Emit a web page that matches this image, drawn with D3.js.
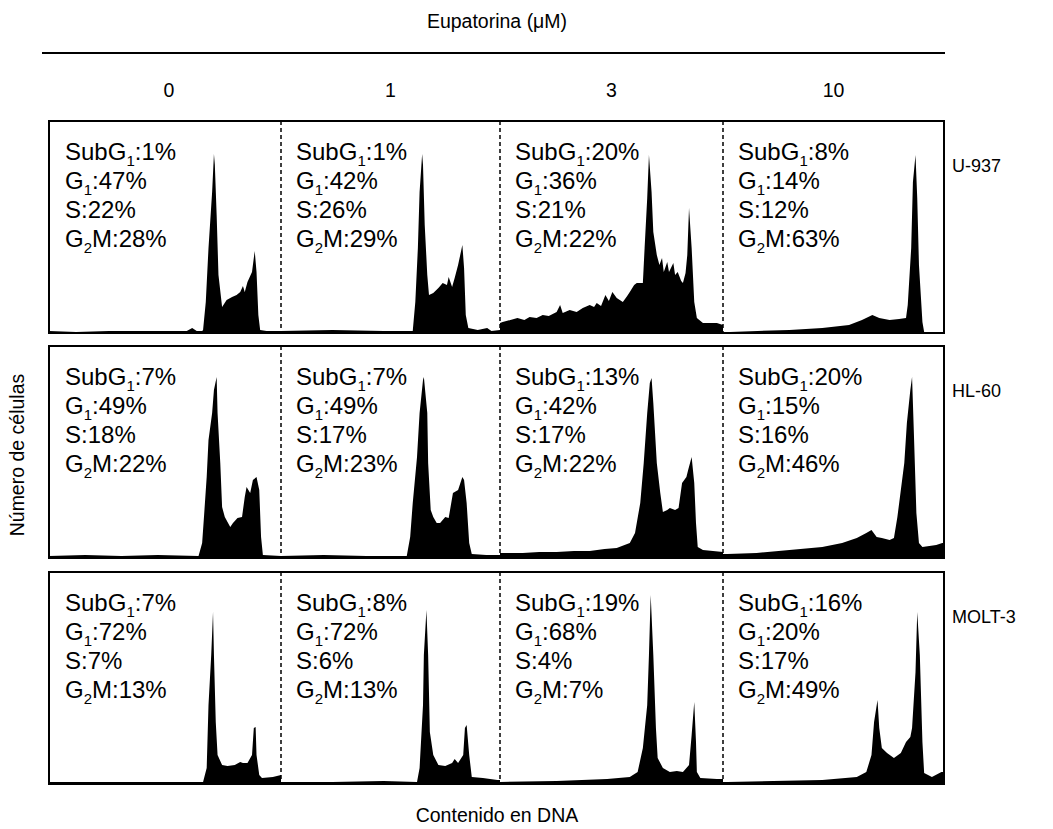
<!DOCTYPE html>
<html>
<head>
<meta charset="utf-8">
<script src="https://cdn.jsdelivr.net/npm/d3@7"></script>
<style>
  body { margin: 0; background: #fff; }
  svg text { font-family: Arial, "Liberation Sans", Helvetica, sans-serif; fill: #000; }
</style>
</head>
<body>
<svg id="chart" width="1053" height="829"></svg>
<script>
const concentrations = ["0", "1", "3", "10"];
const cellLines = ["U-937", "HL-60", "MOLT-3"];

// cell cycle percentages, one row per cell line, one column per concentration
const subG1 = [[1, 1, 20, 8], [7, 7, 13, 20], [7, 8, 19, 16]];
const g1 = [[47, 42, 36, 14], [49, 49, 42, 15], [72, 72, 68, 20]];
const sPhase = [[22, 26, 21, 12], [18, 17, 17, 16], [7, 6, 4, 17]];
const g2m = [[28, 29, 22, 63], [22, 23, 22, 46], [13, 13, 7, 49]];

// DNA histograms: [channel 0-256, cell count]
const u937_0 = [[0,2],[30,1],[66,2],[100,2],[132,2],[152,2],[158,5],[163,2],[169,2],[170,3],[173,31],[176,85],[180,141],[182,179],[183,168],[185,118],[187,58],[191,26],[196,33],[202,36],[207,38],[211,41],[214,47],[216,41],[219,51],[224,61],[227,82],[229,61],[231,18],[233,3],[240,2],[256,2]];
const u937_1 = [[0,2],[60,3],[120,2],[154,2],[157,31],[160,85],[162,141],[165,179],[166,168],[168,108],[171,58],[173,38],[178,40],[184,45],[189,50],[194,48],[196,56],[200,46],[203,55],[207,68],[212,88],[214,65],[216,18],[219,5],[230,3],[241,5],[246,2],[256,3]];
const u937_3 = [[0,10],[3,11],[12,13],[20,15],[28,13],[34,16],[42,15],[49,18],[56,17],[65,21],[69,28],[72,20],[80,23],[88,21],[95,25],[103,28],[108,26],[111,30],[116,27],[121,38],[125,32],[129,41],[134,35],[141,31],[146,37],[149,41],[154,48],[157,50],[164,50],[166,85],[169,135],[171,178],[174,141],[176,101],[180,78],[183,68],[186,75],[188,61],[192,71],[194,61],[199,70],[201,58],[204,61],[208,52],[210,50],[213,60],[215,78],[217,125],[220,85],[223,31],[226,15],[233,10],[249,10],[256,8]];
const u937_10 = [[0,1],[8,1],[40,2],[77,3],[115,5],[146,8],[161,13],[173,18],[181,15],[193,13],[204,14],[212,15],[214,28],[218,85],[220,151],[223,178],[225,135],[227,68],[231,11],[233,1],[256,0]];

const hl60_0 = [[0,2],[40,3],[80,2],[120,3],[165,2],[169,15],[171,41],[174,81],[176,118],[180,145],[182,168],[185,181],[186,145],[189,95],[191,51],[194,41],[200,31],[203,35],[208,40],[213,41],[216,61],[218,71],[222,65],[225,78],[229,81],[232,68],[234,21],[236,3],[256,2]];
const hl60_1 = [[0,2],[50,3],[100,2],[147,2],[151,21],[154,55],[159,101],[162,145],[166,178],[167,181],[171,145],[172,95],[175,48],[178,41],[182,35],[186,35],[192,41],[196,40],[201,65],[207,68],[212,81],[214,78],[217,55],[220,15],[223,4],[240,3],[256,3]];
const hl60_3 = [[0,5],[26,5],[45,6],[65,6],[85,7],[103,7],[120,9],[134,10],[149,15],[155,25],[161,55],[165,95],[169,145],[172,175],[174,180],[176,155],[180,95],[184,65],[187,46],[192,48],[195,50],[201,48],[205,50],[209,75],[214,81],[216,88],[220,101],[223,75],[225,35],[227,11],[233,8],[256,6]];
const hl60_10 = [[0,4],[5,4],[39,5],[77,8],[115,11],[138,15],[155,20],[166,25],[172,28],[178,21],[184,20],[193,18],[198,20],[202,41],[206,68],[210,95],[213,135],[217,168],[219,181],[221,128],[224,45],[227,15],[231,11],[247,13],[254,15],[256,15]];

const molt3_0 = [[0,2],[60,2],[120,2],[170,2],[174,16],[176,79],[179,129],[181,172],[182,129],[184,62],[186,29],[191,19],[197,18],[205,19],[211,22],[214,21],[219,21],[224,29],[226,56],[228,57],[229,29],[232,9],[235,6],[247,7],[256,9]];
const molt3_1 = [[0,2],[60,2],[120,3],[159,2],[162,16],[166,79],[167,129],[170,174],[172,129],[174,52],[178,29],[184,19],[192,18],[200,21],[203,25],[207,21],[213,29],[215,56],[217,59],[220,29],[223,7],[236,6],[253,4],[256,4]];
const molt3_3 = [[0,2],[65,3],[123,5],[149,7],[158,12],[164,36],[169,79],[171,129],[173,189],[176,129],[179,56],[181,26],[187,16],[195,12],[203,13],[210,12],[217,19],[220,49],[223,82],[225,42],[226,12],[230,6],[249,5],[256,5]];
const molt3_10 = [[0,2],[5,2],[58,3],[115,4],[155,7],[166,12],[172,29],[175,62],[179,84],[181,56],[184,36],[190,31],[198,26],[206,31],[212,42],[217,47],[219,56],[223,112],[225,172],[228,129],[231,42],[233,11],[242,7],[253,12],[256,12]];

const histograms = [
  [u937_0, u937_1, u937_3, u937_10],
  [hl60_0, hl60_1, hl60_3, hl60_10],
  [molt3_0, molt3_1, molt3_3, molt3_10],
];

// layout
const colEdges = [49, 281, 500, 723, 944];
const rowTops = [121, 346, 572];
const rowH = 212;
const fontStack = 'Arial, "Liberation Sans", Helvetica, sans-serif';

const svg = d3.select("#chart");

// header
svg.append("text")
  .attr("x", 497).attr("y", 28)
  .attr("text-anchor", "middle")
  .style("font-size", "19.5px")
  .text("Eupatorina (\u03BCM)");

svg.append("line")
  .attr("x1", 42).attr("x2", 945)
  .attr("y1", 53).attr("y2", 53)
  .attr("stroke", "#000").attr("stroke-width", 2);

svg.selectAll(".concLabel")
  .data(concentrations)
  .enter()
  .append("text")
  .attr("class", "concLabel")
  .attr("x", (d, i) => (colEdges[i] + colEdges[i + 1]) / 2 + (i === 0 ? 4 : 0))
  .attr("y", 97)
  .attr("text-anchor", "middle")
  .style("font-size", "19.5px")
  .text((d) => d);

// axis titles
svg.append("text")
  .attr("transform", "translate(24,455) rotate(-90)")
  .attr("text-anchor", "middle")
  .style("font-size", "19.5px")
  .text("Número de células");

svg.append("text")
  .attr("x", 497).attr("y", 822)
  .attr("text-anchor", "middle")
  .style("font-size", "19.5px")
  .text("Contenido en DNA");

const defs = svg.append("defs");

function statLines(r, c) {
  return [
    ["SubG", "1", ":" + subG1[r][c] + "%"],
    ["G", "1", ":" + g1[r][c] + "%"],
    ["S", "", ":" + sPhase[r][c] + "%"],
    ["G", "2", "M:" + g2m[r][c] + "%"],
  ];
}

cellLines.forEach((line, r) => {
  const top = rowTops[r];
  const bottom = top + rowH;
  const y = d3.scaleLinear().domain([0, 212]).range([bottom, top]);

  defs.append("clipPath")
    .attr("id", `clip${r}`)
    .append("rect")
    .attr("x", colEdges[0]).attr("y", top)
    .attr("width", colEdges[4] - colEdges[0]).attr("height", rowH);

  const rowG = svg.append("g").attr("class", "row");
  const plotG = rowG.append("g").attr("clip-path", `url(#clip${r})`);

  histograms[r].forEach((hist, c) => {
    const x = d3.scaleLinear().domain([0, 256]).range([colEdges[c], colEdges[c + 1]]);
    const area = d3.area()
      .x((d) => x(d[0]))
      .y0(y(0))
      .y1((d) => y(d[1]));

    plotG.append("path")
      .datum(hist)
      .attr("d", area)
      .attr("fill", "#000");

    // percentages
    const tx = colEdges[c] + (c === 0 ? 16 : 15);
    statLines(r, c).forEach((parts, k) => {
      const t = rowG.append("text")
        .attr("x", tx)
        .attr("y", top + 39 + k * 29)
        .style("font-size", "24px");
      t.append("tspan").text(parts[0]);
      if (parts[1]) {
        t.append("tspan").attr("dy", 6).style("font-size", "15px").text(parts[1]);
        t.append("tspan").attr("dy", -6).text(parts[2]);
      } else {
        t.append("tspan").text(parts[2]);
      }
    });
  });

  // dashed separators between concentrations
  rowG.selectAll(".sep")
    .data(colEdges.slice(1, 4))
    .enter()
    .append("line")
    .attr("class", "sep")
    .attr("x1", (d) => d).attr("x2", (d) => d)
    .attr("y1", top).attr("y2", bottom)
    .attr("stroke", "#000")
    .attr("stroke-width", 1.5)
    .attr("stroke-dasharray", "4,3");

  rowG.append("rect")
    .attr("x", colEdges[0]).attr("y", top)
    .attr("width", colEdges[4] - colEdges[0]).attr("height", rowH)
    .attr("fill", "none")
    .attr("stroke", "#000")
    .attr("stroke-width", 2);

  rowG.append("text")
    .attr("x", 952)
    .attr("y", top + 46)
    .attr("dominant-baseline", "middle")
    .style("font-size", "18px")
    .text(line);
});
</script>
</body>
</html>
